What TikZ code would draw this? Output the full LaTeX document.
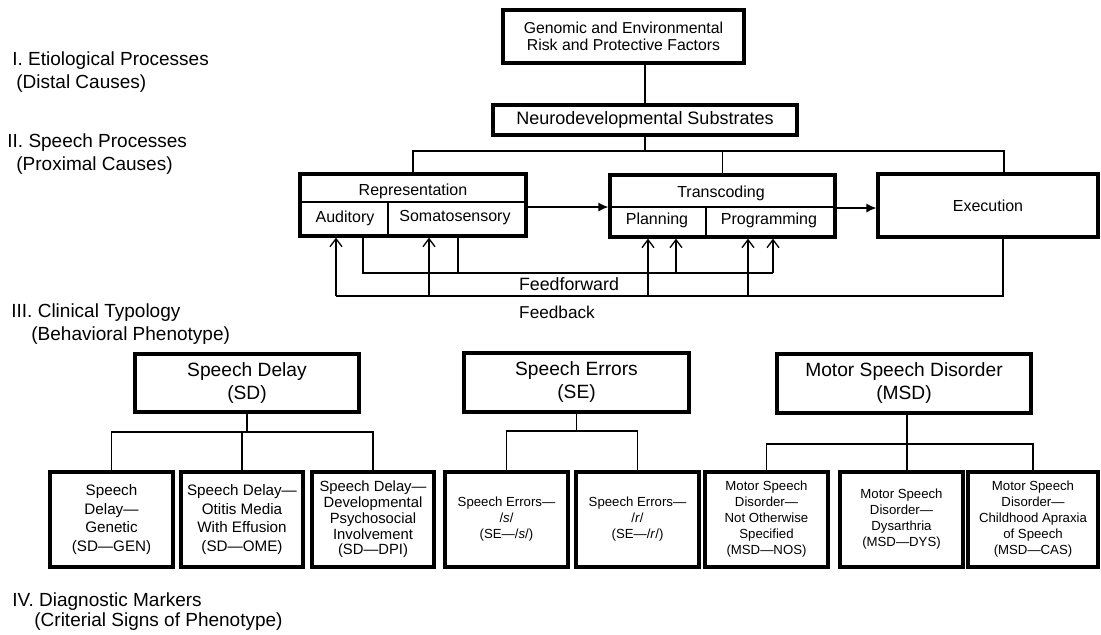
\documentclass[tikz,border=0pt]{standalone}
\usepackage{fontspec}
\setmainfont{Liberation Sans}
\usetikzlibrary{arrows.meta}

\tikzset{
	sz/.style args={#1/#2}{minimum width=#1*0.5pt, minimum height=#2*0.5pt},
	lvl/.style={anchor=west, align=left, inner sep=0pt, font=\fontsize{9.5}{11.5}\selectfont},
	bigbox/.style={draw, line width=1.6pt, inner sep=0pt, align=center},
	catbox/.style={bigbox, font=\fontsize{9.6}{11.5}\selectfont},
	leaf/.style={bigbox, line width=1.7pt, font=\fontsize{7.6}{9.3}\selectfont},
	smallleaf/.style={leaf, font=\fontsize{6.6}{8}\selectfont},
	txt/.style={inner sep=0pt, font=\fontsize{8}{9.5}\selectfont},
	inner/.style={line width=1pt},
	conn/.style={line width=0.65pt},
	filledarr/.style={conn, -{Latex[length=5pt, width=4.5pt]}},
	openarr/.style={conn, -{Straight Barb[length=4pt, width=6pt]}},
}

\begin{document}
\begin{tikzpicture}[x=0.5pt, y=-0.5pt]
	\useasboundingbox (0,0) rectangle (1101,634);

	% level labels
	\node[lvl] (lvlI) at (12,72) {I. Etiological Processes\\\hspace{2pt}(Distal Causes)};
	\node[lvl] (lvlII) at (7,154) {II. Speech Processes\\\hspace{4.5pt}(Proximal Causes)};
	\node[lvl] (lvlIII) at (11,324) {III. Clinical Typology\\\hspace{10pt}(Behavioral Phenotype)};
	\node[lvl, font=\fontsize{9.5}{10}\selectfont] (lvlIV) at (12,612) {IV. Diagnostic Markers\\\hspace{11pt}(Criterial Signs of Phenotype)};

	% causes
	\node[bigbox, sz=241/53, font=\fontsize{7.9}{8.2}\selectfont] (gen) at (623.5,36.5) {Genomic and Environmental\\Risk and Protective Factors};
	\node[bigbox, sz=304/30, font=\fontsize{9}{10}\selectfont] (neuro) at (645,120) {Neurodevelopmental Substrates};
	\draw[conn] (gen.south -| neuro.north) -- (neuro.north);

	% speech processes
	\node[bigbox, sz=226/62] (rep) at (413,205) {};
	\node[bigbox, sz=225/62] (trans) at (722.5,206) {};
	\node[bigbox, sz=220/63, font=\fontsize{8}{9.5}\selectfont] (exec) at (988,205.5) {Execution};
	\draw[inner] (rep.west |- 0,202) -- (rep.east |- 0,202);
	\draw[inner] (388,202) -- (rep.south -| 388,0);
	\draw[inner] (trans.west |- 0,207) -- (trans.east |- 0,207);
	\draw[inner] (706,207) -- (trans.south -| 706,0);
	\node[txt] (repT) at (413,191) {Representation};
	\node[txt] (repA) at (345,218) {Auditory};
	\node[txt] (repS) at (455,218) {Somatosensory};
	\node[txt] (transT) at (721,193) {Transcoding};
	\node[txt] (transP) at (657,220) {Planning};
	\node[txt] (transG) at (769,220) {Programming};

	\coordinate (br) at (645,151);
	\draw[conn] (neuro.south) -- (br);
	\draw[conn] (rep.north) |- (br) -| ([xshift=8pt]exec.north);
	\draw[conn] (trans.north) -- (trans.north |- br);
	\draw[filledarr] (rep.east |- 0,207) -- (trans.west |- 0,207);
	\draw[filledarr] (trans.east |- 0,208) -- (exec.west |- 0,208);

	% feedforward
	\coordinate (ffA) at (363,273);
	\coordinate (ffB) at (458,273);
	\coordinate (ffC) at (676,273);
	\coordinate (ffD) at (773,273);
	\draw[conn] (rep.south -| ffA) |- (ffD);
	\draw[conn] (rep.south -| ffB) -- (ffB);
	\draw[openarr] (ffC) -- (trans.south -| ffC);
	\draw[openarr] (ffD) -- (trans.south -| ffD);
	\node[txt, font=\fontsize{8.9}{10}\selectfont] (ffText) at (569,284) {Feedforward};

	% feedback
	\coordinate (fbR) at (1003,296);
	\coordinate (fbA) at (336,296);
	\coordinate (fbB) at (429,296);
	\coordinate (fbC) at (648,296);
	\coordinate (fbD) at (748,296);
	\draw[conn] (exec.south -| fbR) |- (fbA);
	\draw[openarr] (fbA) -- (rep.south -| fbA);
	\draw[openarr] (fbB) -- (rep.south -| fbB);
	\draw[openarr] (fbC) -- (trans.south -| fbC);
	\draw[openarr] (fbD) -- (trans.south -| fbD);
	\node[txt, font=\fontsize{8.6}{10}\selectfont] (fbText) at (557,312) {Feedback};

	% clinical typology
	\node[catbox, sz=224/58] (sd) at (247,383) {Speech Delay\\(SD)};
	\node[catbox, sz=225/59] (se) at (576.5,382.5) {Speech Errors\\(SE)};
	\node[catbox, sz=254/59] (msd) at (904,383.5) {Motor Speech Disorder\\(MSD)};

	% diagnostic markers
	\node[leaf, sz=123/95] (sdgen) at (111.5,519.5) {Speech\\Delay—\\Genetic\\(SD—GEN)};
	\node[leaf, sz=122/95] (sdome) at (242,519.5) {Speech Delay—\\Otitis Media\\With Effusion\\(SD—OME)};
	\node[leaf, sz=122/95, font=\fontsize{7.4}{7.9}\selectfont] (sddpi) at (373,519.5) {Speech Delay—\\Developmental\\Psychosocial\\Involvement\\(SD—DPI)};
	\node[smallleaf, sz=123/95] (ses) at (506.5,519.5) {Speech Errors—\\/\textit{s}/\\(SE—/\textit{s}/)};
	\node[smallleaf, sz=123/95] (ser) at (637.5,519.5) {Speech Errors—\\/\textit{r}/\\(SE—/\textit{r}/)};
	\node[smallleaf, sz=123/95] (msdnos) at (766.5,519.5) {Motor Speech\\Disorder—\\Not Otherwise\\Specified\\(MSD—NOS)};
	\node[smallleaf, sz=123/95] (msddys) at (901.5,519.5) {Motor Speech\\Disorder—\\Dysarthria\\(MSD—DYS)};
	\node[smallleaf, sz=130/95] (msdcas) at (1033,519.5) {Motor Speech\\Disorder—\\Childhood Apraxia\\of Speech\\(MSD—CAS)};

	\coordinate (sdbr) at (247,432);
	\draw[conn] (sd.south) -- (sdbr);
	\draw[conn] (sdgen.north) |- (sdbr) -| (sddpi.north);
	\draw[conn] (sdome.north) -- (sdome.north |- sdbr);

	\coordinate (sebr) at (576.5,431);
	\draw[conn] (se.south) -- (sebr);
	\draw[conn] (ses.north) |- (sebr) -| (ser.north);

	\coordinate (msdbr) at (907,444);
	\draw[conn] (msd.south -| msdbr) -- (msdbr);
	\draw[conn] (msdnos.north) |- (msdbr) -| (msdcas.north);
	\draw[conn] (msddys.north -| msdbr) -- (msdbr);
\end{tikzpicture}
\end{document}
